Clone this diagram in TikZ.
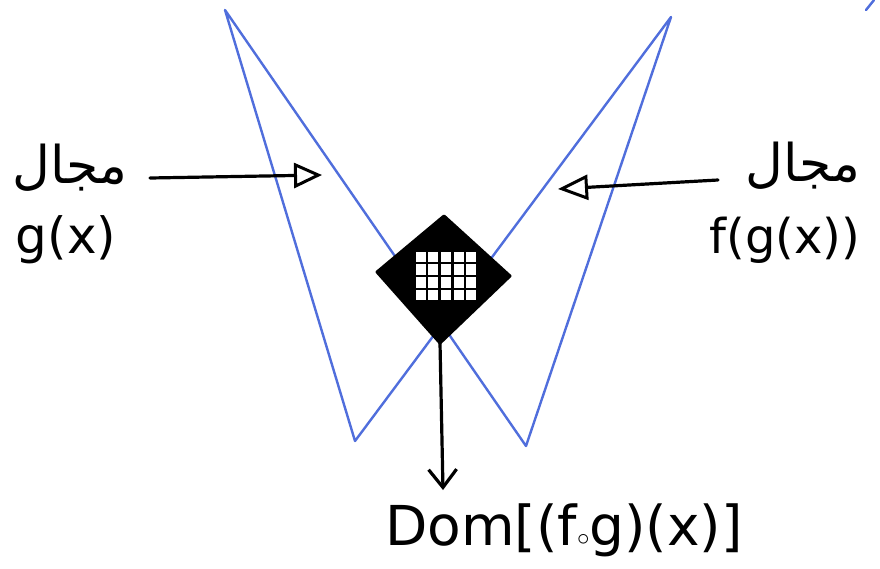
\documentclass[tikz,border=0pt]{standalone}
\usepackage{fontspec}
\setmainfont{DejaVu Sans}
\newfontfamily\arabicfont[Script=Arabic]{DejaVu Sans}
\TeXXeTstate=1
\usetikzlibrary{arrows.meta}
\definecolor{penblue}{RGB}{80,110,220}
\tikzset{
  blueline/.style={draw=penblue, line width=2.4pt, line join=round, line cap=round},
  inkarrow/.style={draw=black, line width=3.2pt, line cap=round},
  lbl/.style={inner sep=0pt, anchor=center}
}
\begin{document}
\begin{tikzpicture}[x=1pt,y=-1pt]
\useasboundingbox (0,0) rectangle (880,568);
% bow-tie outline
\coordinate (tl) at (225,10);
\coordinate (tr) at (671,17);
\coordinate (bl) at (355,441);
\coordinate (br) at (526,446);
\draw[blueline] (tl) -- (bl) -- (tr) -- (br) -- cycle;
% small stray stroke top right
\coordinate (s1) at (866,10);
\coordinate (s2) at (874,0);
\draw[blueline] (s1) -- (s2);
% central diamond
\coordinate (dt) at (444,216);
\coordinate (dr) at (510,276);
\coordinate (db) at (440,343);
\coordinate (dl) at (377,272);
\fill[black, draw=black, line width=3pt, line join=round] (dt) -- (dr) -- (db) -- (dl) -- cycle;
% inner grid
\coordinate (g1) at (414,250);
\coordinate (g2) at (478,302);
\fill[white] (g1) rectangle (g2);
\foreach \x in {426.8,439.6,452.4,465.2} \draw[black, line width=2.4pt] (\x,250) -- (\x,302);
\foreach \y in {263,276,289} \draw[black, line width=2.4pt] (414,\y) -- (478,\y);
\draw[black, line width=3.5pt, line join=round] (g1) rectangle (g2);
% labels
\node[lbl] (ml) at (70,168) {\fontsize{52}{56}\selectfont\arabicfont\beginR مجال\endR};
\node[lbl] (gl) at (66,240) {\fontsize{50}{54}\selectfont g(x)};
\node[lbl] (mr) at (803,166) {\fontsize{52}{56}\selectfont\arabicfont\beginR مجال\endR};
\node[lbl] (fr) at (785,240) {\fontsize{48}{52}\selectfont f(g(x))};
\node[lbl] (dom) at (564,530) {\fontsize{55}{58}\selectfont Dom[(f$\circ$g)(x)]};
% arrows
\coordinate (la) at (150,178);
\coordinate (lb) at (322,175);
\draw[inkarrow, -{Triangle[open, length=28pt, width=25pt, line width=3pt]}] (la) -- (lb);
\coordinate (ra) at (718,180);
\coordinate (rb) at (558,189);
\draw[inkarrow, -{Triangle[open, length=30pt, width=25pt, line width=3pt]}] (ra) -- (rb);
\coordinate (dend) at (443,490);
\draw[inkarrow, -{Straight Barb[length=18pt, width=28pt, line width=3.2pt]}] (db) -- (dend);
\end{tikzpicture}
\end{document}
